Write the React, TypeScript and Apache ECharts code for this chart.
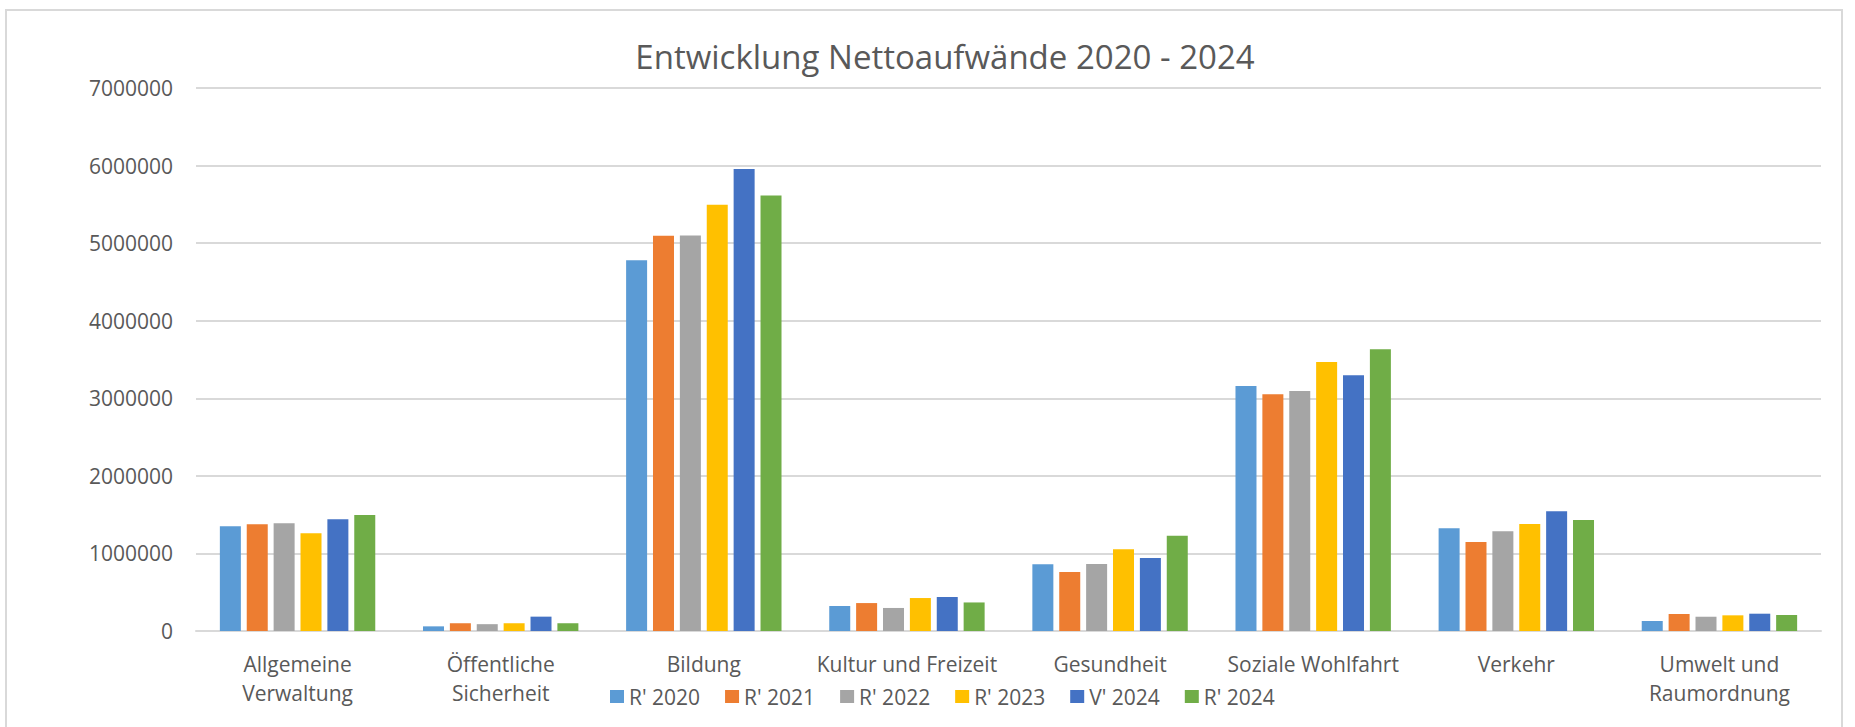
import React, { useEffect, useRef } from 'react';
import * as echarts from 'echarts';

const titleText = 'Entwicklung Nettoaufwände 2020 - 2024';
const categories = [
  'Allgemeine\nVerwaltung',
  'Öffentliche\nSicherheit',
  'Bildung',
  'Kultur und Freizeit',
  'Gesundheit',
  'Soziale Wohlfahrt',
  'Verkehr',
  'Umwelt und\nRaumordnung',
];
const seriesNames = ["R' 2020", "R' 2021", "R' 2022", "R' 2023", "V' 2024", "R' 2024"];
const seriesColors = ['#5B9BD5', '#ED7D31', '#A5A5A5', '#FFC000', '#4472C4', '#70AD47'];
const r2020 = [1350000, 60000, 4780000, 322000, 860000, 3158000, 1324000, 129000];
const r2021 = [1376000, 100000, 5095000, 360000, 760000, 3051000, 1147000, 219000];
const r2022 = [1388000, 88000, 5100000, 297000, 864000, 3094000, 1285000, 184000];
const r2023 = [1260000, 100000, 5495000, 425000, 1053000, 3468000, 1379000, 202000];
const v2024 = [1440000, 185000, 5955000, 438000, 941000, 3296000, 1543000, 223000];
const r2024 = [1495000, 100000, 5615000, 368000, 1229000, 3631000, 1431000, 206000];
const seriesData = [r2020, r2021, r2022, r2023, v2024, r2024];
const yMin = 0;
const yMax = 7000000;
const yInterval = 1000000;

const FONT = "'Open Sans', 'Noto Sans', sans-serif";
const TEXT = '#595959';
const GRID = '#d9d9d9';

export default function App() {
  const ref = useRef<HTMLDivElement>(null);
  useEffect(() => {
    document.body.style.margin = '0';
    const chart = echarts.init(ref.current!, undefined, { renderer: 'svg' });
    chart.setOption({
      animation: false,
      backgroundColor: '#ffffff',
      textStyle: { fontFamily: FONT },
      graphic: [
        {
          type: 'rect',
          shape: { x: 6, y: 10, width: 1836, height: 800 },
          style: { fill: 'none', stroke: GRID, lineWidth: 2 },
          silent: true,
        },
        {
          type: 'text',
          style: {
            text: titleText,
            x: 945,
            y: 56,
            align: 'center',
            verticalAlign: 'middle',
            fontSize: 33,
            fontFamily: FONT,
            fill: TEXT,
          },
        },
      ],
      legend: {
        data: seriesNames,
        left: 610,
        top: 686,
        padding: 0,
        itemWidth: 14,
        itemHeight: 13,
        itemGap: 25,
        icon: 'rect',
        textStyle: { fontSize: 21, color: TEXT, fontFamily: FONT },
      },
      grid: { left: 196, right: 34, top: 88, bottom: 96, containLabel: false },
      xAxis: {
        type: 'category',
        data: categories,
        axisTick: { show: false },
        axisLine: { show: true, lineStyle: { color: GRID, width: 2 } },
        axisLabel: {
          fontSize: 21,
          color: TEXT,
          fontFamily: FONT,
          lineHeight: 29,
          margin: 18,
          interval: 0,
        },
      },
      yAxis: {
        type: 'value',
        min: yMin,
        max: yMax,
        interval: yInterval,
        axisLine: { show: false },
        axisTick: { show: false },
        splitLine: { lineStyle: { color: GRID, width: 2 } },
        axisLabel: {
          fontSize: 21,
          color: TEXT,
          fontFamily: FONT,
          margin: 23,
          formatter: (v: number) => String(v),
        },
      },
      series: seriesNames.map((name, i) => ({
        name,
        type: 'bar',
        data: seriesData[i],
        barWidth: 21,
        barGap: '28%',
        itemStyle: { color: seriesColors[i] },
      })),
    });
    return () => chart.dispose();
  }, []);
  return <div ref={ref} style={{ width: 1855, height: 727 }} />;
}
